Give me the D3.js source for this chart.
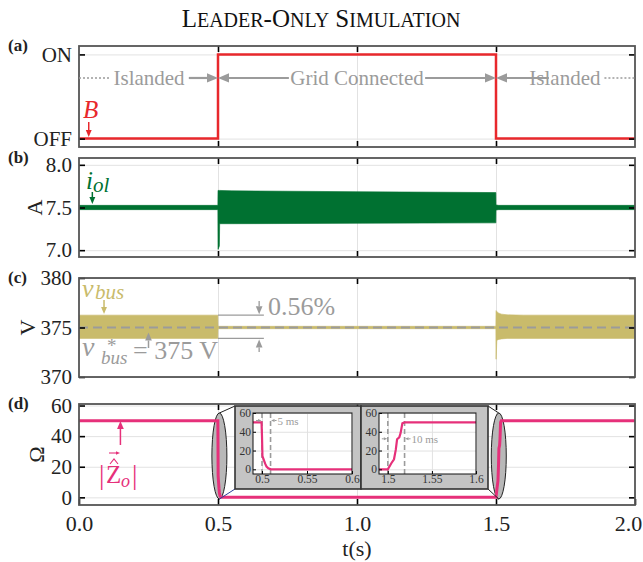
<!DOCTYPE html>
<html>
<head>
<meta charset="utf-8">
<script src="https://cdn.jsdelivr.net/npm/d3@7"></script>
<style>
  body { margin: 0; background: #fff; }
  svg { display: block; font-family: "Liberation Serif", "Times New Roman", serif; }
</style>
</head>
<body>
<div id="wrapper"></div>
<script>
// ---- data ----
const xTicks = [0, 0.5, 1, 1.5, 2];
const xTickLabels = ["0.0", "0.5", "1.0", "1.5", "2.0"];
const xGrid = [0.5, 1, 1.5];

// (a) breaker state
const switchTime = [0, 0.5, 0.5, 1.5, 1.5, 2.0];
const switchState = [0, 0, 1, 1, 0, 0];
const aTicks = [0, 1];
const aTickLabels = ["OFF", "ON"];

// (b) i_ol envelope (A)
const iolTime  = [0, 0.4995, 0.5, 0.5005, 0.505, 0.506, 0.55, 1.0, 1.4995, 1.5, 1.51, 2.0];
const iolUpper = [7.525, 7.525, 7.70, 7.70, 7.70, 7.70, 7.695, 7.685, 7.675, 7.53, 7.525, 7.525];
const iolLower = [7.475, 7.475, 7.01, 7.01, 7.05, 7.31, 7.31, 7.315, 7.32, 7.47, 7.475, 7.475];
const bTicks = [7.0, 7.5, 8.0];

// (c) v_bus envelope (V)
const vbusTime  = [0, 0.4995, 0.5, 1.4995, 1.5, 1.5005, 1.503, 1.51, 1.52, 1.54, 1.6, 2.0];
const vbusUpper = [376.25, 376.25, 375.12, 375.12, 376.7, 376.7, 376.6, 376.45, 376.35, 376.28, 376.25, 376.25];
const vbusLower = [373.9, 373.9, 374.88, 374.88, 371.8, 371.8, 373.7, 373.8, 373.85, 373.9, 373.9, 373.9];
const vbusRef = 375;
const cTicks = [370, 375, 380];

// (d) |Z_o| estimate (ohm)
const zTime = [0, 0.4995, 0.5, 0.5005, 0.502, 0.5035, 0.505, 0.507, 0.51,
               1.5, 1.504, 1.507, 1.509, 1.5105, 1.513, 1.5145, 1.5165, 1.519, 2.0];
const zMag  = [50, 50, 35, 14, 10, 6, 3, 1, 0,
               0, 6.5, 10.7, 20.7, 32, 34, 38.6, 49, 50, 50];
const dTicks = [0, 20, 40, 60];

// zoom insets
const inset1Ticks = [0.5, 0.55, 0.6];
const inset1Labels = ["0.5", "0.55", "0.6"];
const inset1Marks = [0.5, 0.5095];
const inset2Ticks = [1.5, 1.55, 1.6];
const inset2Labels = ["1.5", "1.55", "1.6"];
const inset2Marks = [1.5, 1.519];
const insetYTicks = [0, 20, 40, 60];

// ---- colours ----
const red = "#e8282c", green = "#007131", olive = "#c9bb6b", pink = "#e6307a";
const annoGray = "#9b9b9b", frameCol = "#555", gridCol = "#e2e2e2";

const width = 643, height = 562;
const svg = d3.select("#wrapper").append("svg")
    .attr("width", width)
    .attr("height", height);

const xScaler = d3.scaleLinear().domain([0, 2]).range([79, 635]);
const x0 = xScaler(0), x1 = xScaler(2);

const panels = [
    {key: "a", top: 46, bottom: 147, domain: [-0.1, 1.1], ticks: aTicks, fmt: (d, i) => aTickLabels[i], title: null, label: "(a)"},
    {key: "b", top: 158, bottom: 257, domain: [6.92, 8.08], ticks: bTicks, fmt: d3.format(".1f"), title: "A", titleX: 34, label: "(b)"},
    {key: "c", top: 278, bottom: 377, domain: [370, 380], ticks: cTicks, fmt: d3.format("d"), title: "V", titleX: 27, label: "(c)"},
    {key: "d", top: 404, bottom: 505, domain: [-5, 61], ticks: dTicks, fmt: d3.format("d"), title: "Ω", titleX: 36, label: "(d)"}
];
panels.forEach(p => { p.y = d3.scaleLinear().domain(p.domain).range([p.bottom, p.top]); });

function arrow(g, xa, ya, xb, yb, color, w, head) {
    const ang = Math.atan2(yb - ya, xb - xa);
    const hw = head * 0.42;
    const bx = xb - head * Math.cos(ang), by = yb - head * Math.sin(ang);
    g.append("line").attr("x1", xa).attr("y1", ya).attr("x2", bx).attr("y2", by)
        .attr("stroke", color).attr("stroke-width", w);
    const px = -Math.sin(ang) * hw, py = Math.cos(ang) * hw;
    g.append("path").attr("d", `M${xb},${yb}L${bx + px},${by + py}L${bx - px},${by - py}Z`).attr("fill", color);
}

// one text element, pieces placed absolutely (math-like labels)
function mathLabel(g, color, parts) {
    const t = g.append("text").attr("fill", color);
    parts.forEach(([s, x, y, size, italic]) => {
        t.append("tspan").attr("x", x).attr("y", y).attr("font-size", size)
            .attr("font-style", italic ? "italic" : "normal").text(s);
    });
    return t;
}

// grids + clip per panel
panels.forEach(p => {
    const g = svg.append("g").attr("class", "grid-" + p.key);
    g.append("g").attr("transform", `translate(0,${p.bottom})`)
        .call(d3.axisBottom(xScaler).tickValues(xGrid).tickSize(-(p.bottom - p.top)).tickFormat(""))
        .call(s => s.select(".domain").remove())
        .selectAll("line").attr("stroke", gridCol);
    g.append("g").attr("transform", `translate(${x0},0)`)
        .call(d3.axisLeft(p.y).tickValues(p.ticks).tickSize(-(x1 - x0)).tickFormat(""))
        .call(s => s.select(".domain").remove())
        .selectAll("line").attr("stroke", gridCol);
    svg.append("clipPath").attr("id", "clip-" + p.key)
        .append("rect").attr("x", x0).attr("y", p.top).attr("width", x1 - x0).attr("height", p.bottom - p.top);
});

const [pa, pb, pc, pd] = panels;

// (a) breaker
svg.append("path")
    .attr("d", d3.line().x((d, i) => xScaler(switchTime[i])).y(d => pa.y(d))(switchState))
    .attr("fill", "none").attr("stroke", red).attr("stroke-width", 2.5)
    .attr("clip-path", "url(#clip-a)");

// (b) i_ol band
svg.append("path")
    .attr("d", d3.area().x((d, i) => xScaler(iolTime[i])).y0((d, i) => pb.y(iolLower[i])).y1(d => pb.y(d))(iolUpper))
    .attr("fill", green).attr("stroke", green).attr("stroke-width", 0.6)
    .attr("clip-path", "url(#clip-b)");

// (c) v_bus band + reference
svg.append("path")
    .attr("d", d3.area().x((d, i) => xScaler(vbusTime[i])).y0((d, i) => pc.y(vbusLower[i])).y1(d => pc.y(d))(vbusUpper))
    .attr("fill", olive).attr("stroke", olive).attr("stroke-width", 0.6)
    .attr("clip-path", "url(#clip-c)");
svg.append("line")
    .attr("x1", x0).attr("x2", x1).attr("y1", pc.y(vbusRef)).attr("y2", pc.y(vbusRef))
    .attr("stroke", annoGray).attr("stroke-width", 2).attr("stroke-dasharray", "9,5");

// (d) ellipses behind the main trace
const zoomEllipses = [0.505, 1.51];
const gZ = svg.append("g");
zoomEllipses.forEach(t => {
    gZ.append("ellipse").attr("cx", xScaler(t)).attr("cy", 456).attr("rx", 7.5).attr("ry", 43)
        .attr("fill", "#b8b8b8").attr("stroke", "#222").attr("stroke-width", 1);
});
svg.append("path")
    .attr("d", d3.line().x((d, i) => xScaler(zTime[i])).y(d => pd.y(d))(zMag))
    .attr("fill", "none").attr("stroke", pink).attr("stroke-width", 3)
    .attr("clip-path", "url(#clip-d)");

// frames + inward ticks
panels.forEach(p => {
    const g = svg.append("g");
    const tickStyle = s => { s.select(".domain").remove(); s.selectAll("line").attr("stroke", "#000").attr("stroke-width", 1.6); };
    g.append("g").attr("transform", `translate(${x0},0)`)
        .call(d3.axisLeft(p.y).tickValues(p.ticks).tickSizeInner(-6).tickSizeOuter(0).tickPadding(7).tickFormat(p.fmt))
        .call(tickStyle)
        .selectAll("text").attr("font-size", 21).attr("fill", "#222")
        .attr("font-family", "Liberation Serif");
    g.append("g").attr("transform", `translate(${x1},0)`)
        .call(d3.axisRight(p.y).tickValues(p.ticks).tickSizeInner(-6).tickSizeOuter(0).tickFormat(""))
        .call(tickStyle);
    g.append("g").attr("transform", `translate(0,${p.top})`)
        .call(d3.axisTop(xScaler).tickValues(xGrid).tickSizeInner(-6).tickSizeOuter(0).tickFormat(""))
        .call(tickStyle);
    const bot = g.append("g").attr("transform", `translate(0,${p.bottom})`)
        .call(d3.axisBottom(xScaler).tickValues(p.key === "d" ? xTicks : xGrid).tickSizeInner(-6).tickSizeOuter(0).tickPadding(10)
            .tickFormat((d, i) => p.key === "d" ? xTickLabels[i] : ""))
        .call(tickStyle);
    bot.selectAll("text").attr("font-size", 22).attr("fill", "#222").attr("font-family", "Liberation Serif")
        .attr("dx", (d, i) => (p.key === "d" && i === xTicks.length - 1) ? -7 : 0);
    g.append("rect").attr("x", x0).attr("y", p.top).attr("width", x1 - x0).attr("height", p.bottom - p.top)
        .attr("fill", "none").attr("stroke", frameCol).attr("stroke-width", 1.8);
    g.append("text").attr("x", 8).attr("y", p.top + 5).attr("font-size", 17).attr("font-weight", "bold")
        .attr("fill", "#222").text(p.label);
    if (p.title) {
        const cy = (p.top + p.bottom) / 2;
        g.append("text").attr("transform", `translate(${p.titleX},${cy}) rotate(-90)`)
            .attr("text-anchor", "middle").attr("dominant-baseline", "central")
            .attr("font-size", 22).attr("fill", "#222").text(p.title);
    }
});

// x label + title
svg.append("text").attr("x", xScaler(1)).attr("y", 556).attr("text-anchor", "middle")
    .attr("font-size", 22).attr("fill", "#222").text("t(s)");
const title = svg.append("text").attr("x", 321).attr("y", 27).attr("text-anchor", "middle").attr("fill", "#111");
[["L", 25], ["EADER", 20], ["-O", 25], ["NLY", 20], [" S", 25], ["IMULATION", 20]].forEach(([s, f]) => {
    title.append("tspan").attr("font-size", f).text(s);
});

// ---- annotations (a) ----
const ga = svg.append("g");
const rowY = pa.y(0.72);
ga.append("line").attr("x1", x0).attr("x2", xScaler(0.108)).attr("y1", rowY).attr("y2", rowY)
    .attr("stroke", annoGray).attr("stroke-width", 1.5).attr("stroke-dasharray", "2,2");
ga.append("line").attr("x1", xScaler(1.89)).attr("x2", x1).attr("y1", rowY).attr("y2", rowY)
    .attr("stroke", annoGray).attr("stroke-width", 1.5).attr("stroke-dasharray", "2,2");
[["Islanded", 0.252], ["Grid Connected", 1.0], ["Islanded", 1.748]].forEach(([s, t]) => {
    ga.append("text").attr("x", xScaler(t)).attr("y", rowY).attr("text-anchor", "middle")
        .attr("dominant-baseline", "central").attr("font-size", 21).attr("fill", annoGray).text(s);
});
arrow(ga, xScaler(0.395), rowY, xScaler(0.5), rowY, annoGray, 2.2, 11);
arrow(ga, xScaler(0.755), rowY, xScaler(0.5), rowY, annoGray, 2.2, 11);
arrow(ga, xScaler(1.245), rowY, xScaler(1.5), rowY, annoGray, 2.2, 11);
arrow(ga, xScaler(1.69), rowY, xScaler(1.5), rowY, annoGray, 2.2, 11);
ga.append("text").attr("x", 83).attr("y", 118).attr("font-size", 25).attr("font-style", "italic")
    .attr("fill", red).text("B");
arrow(ga, xScaler(0.035), 122, xScaler(0.035), 137, red, 1.5, 7);

// ---- annotations (b) ----
const gb = svg.append("g");
mathLabel(gb, green, [["i", 86, 189, 25, true], ["ol", 93, 192, 21, true]]);
arrow(gb, xScaler(0.048), 192, xScaler(0.048), 204, green, 1.5, 7);

// ---- annotations (c) ----
const gc = svg.append("g");
mathLabel(gc, olive, [["v", 82, 297, 26, true], ["bus", 95, 299, 21, true]]);
arrow(gc, xScaler(0.09), 300, xScaler(0.09), 314, olive, 1.5, 7);

mathLabel(gc, annoGray, [["v", 82, 356, 28, true], ["*", 107, 352, 19, false],
                         ["bus", 101, 364, 19, true], ["= 375 V", 133, 359, 26, false]]);
arrow(gc, xScaler(0.25), 348, xScaler(0.25), pc.y(vbusRef) + 5, annoGray, 1.5, 8);

[376.25, 373.9].forEach(v => {
    gc.append("line").attr("x1", xScaler(0.5)).attr("x2", xScaler(0.665))
        .attr("y1", pc.y(v)).attr("y2", pc.y(v)).attr("stroke", annoGray).attr("stroke-width", 1.3);
});
arrow(gc, xScaler(0.648), 301, xScaler(0.648), pc.y(376.25) - 1, annoGray, 1.3, 8);
arrow(gc, xScaler(0.648), 352, xScaler(0.648), pc.y(373.9) + 1, annoGray, 1.3, 8);
gc.append("text").attr("x", 268).attr("y", 315).attr("font-size", 26).attr("fill", annoGray).text("0.56%");

// ---- annotations (d) ----
const gd = svg.append("g");
arrow(gd, xScaler(0.149), 445, xScaler(0.149), 421, pink, 1.5, 8);
mathLabel(gd, pink, [["|", 99, 484, 27, false], ["Z", 106, 483, 25, false],
                     ["o", 121, 487, 18, true], ["|", 132, 484, 27, false]]);
gd.append("path").attr("d", "M110,464L114,459L118,464").attr("fill", "none").attr("stroke", pink).attr("stroke-width", 1.1);
arrow(gd, 109, 453, 120, 453, pink, 1.1, 4);

// connectors from ellipses to inset boxes
const insets = [
    {box: [235, 406, 361, 489], plot: [253, 413, 352, 474], domain: [0.49, 0.6], ticks: inset1Ticks, labels: inset1Labels,
     marks: inset1Marks, note: "5 ms", noteVal: 52, ell: zoomEllipses[0], side: "left"},
    {box: [361, 406, 488, 489], plot: [379, 413, 476, 474], domain: [1.49, 1.6], ticks: inset2Ticks, labels: inset2Labels,
     marks: inset2Marks, note: "10 ms", noteVal: 32.5, ell: zoomEllipses[1], side: "right"}
];
insets.forEach(ins => {
    const ex = xScaler(ins.ell);
    const bx = ins.side === "left" ? ins.box[0] : ins.box[2];
    gd.append("line").attr("x1", ex).attr("y1", 413).attr("x2", bx).attr("y2", ins.box[1]).attr("stroke", "#222").attr("stroke-width", 1);
    gd.append("line").attr("x1", ex).attr("y1", 499).attr("x2", bx).attr("y2", ins.box[3])
        .attr("stroke", ins.side === "left" ? "#2a3f9a" : "#222").attr("stroke-width", 1);
});

insets.forEach((ins, k) => {
    const g = svg.append("g");
    const [bx0, by0, bx1, by1] = ins.box;
    const [px0, py0, px1, py1] = ins.plot;
    g.append("rect").attr("x", bx0).attr("y", by0).attr("width", bx1 - bx0).attr("height", by1 - by0)
        .attr("fill", "#c4c4c4").attr("stroke", "#333").attr("stroke-width", 1.6);
    g.append("rect").attr("x", px0).attr("y", py0).attr("width", px1 - px0).attr("height", py1 - py0).attr("fill", "#fff");
    const ix = d3.scaleLinear().domain(ins.domain).range([px0, px1]);
    const iy = d3.scaleLinear().domain([-5, 60]).range([py1, py0]);
    g.append("g").attr("transform", `translate(0,${py1})`)
        .call(d3.axisBottom(ix).tickValues(ins.ticks).tickSize(-(py1 - py0)).tickFormat(""))
        .call(s => s.select(".domain").remove()).selectAll("line").attr("stroke", gridCol);
    g.append("g").attr("transform", `translate(${px0},0)`)
        .call(d3.axisLeft(iy).tickValues(insetYTicks).tickSize(-(px1 - px0)).tickFormat(""))
        .call(s => s.select(".domain").remove()).selectAll("line").attr("stroke", gridCol);
    svg.append("clipPath").attr("id", "iclip" + k)
        .append("rect").attr("x", px0).attr("y", py0).attr("width", px1 - px0).attr("height", py1 - py0);
    ins.marks.forEach(t => {
        g.append("line").attr("x1", ix(t)).attr("x2", ix(t)).attr("y1", py0).attr("y2", py1)
            .attr("stroke", annoGray).attr("stroke-width", 1.6).attr("stroke-dasharray", "5,3");
    });
    g.append("path")
        .attr("d", d3.line().x((d, i) => ix(zTime[i])).y(d => iy(d))(zMag))
        .attr("fill", "none").attr("stroke", pink).attr("stroke-width", 2.2)
        .attr("clip-path", `url(#iclip${k})`);
    const ny = iy(ins.noteVal);
    arrow(g, ix(ins.marks[0]) - 6, ny, ix(ins.marks[0]) - 0.5, ny, annoGray, 1, 3.5);
    arrow(g, ix(ins.marks[1]) + 6, ny, ix(ins.marks[1]) + 0.5, ny, annoGray, 1, 3.5);
    g.append("text").attr("x", ix(ins.marks[1]) + 7).attr("y", ny).attr("dominant-baseline", "central")
        .attr("font-size", 11).attr("fill", annoGray).text(ins.note);
    const tick = s => { s.select(".domain").remove(); s.selectAll("line").attr("stroke", "#000"); };
    g.append("g").attr("transform", `translate(${px0},0)`)
        .call(d3.axisLeft(iy).tickValues(insetYTicks).tickSizeInner(-3).tickSizeOuter(0).tickPadding(2))
        .call(tick).selectAll("text").attr("font-size", 11.5).attr("fill", "#333").attr("font-family", "Liberation Serif");
    g.append("g").attr("transform", `translate(0,${py1})`)
        .call(d3.axisBottom(ix).tickValues(ins.ticks).tickSizeInner(-3).tickSizeOuter(0).tickPadding(1)
            .tickFormat((d, i) => ins.labels[i]))
        .call(tick).selectAll("text").attr("font-size", 11.5).attr("fill", "#333").attr("font-family", "Liberation Serif");
    g.append("rect").attr("x", px0).attr("y", py0).attr("width", px1 - px0).attr("height", py1 - py0)
        .attr("fill", "none").attr("stroke", "#111").attr("stroke-width", 1);
});
</script>
</body>
</html>
